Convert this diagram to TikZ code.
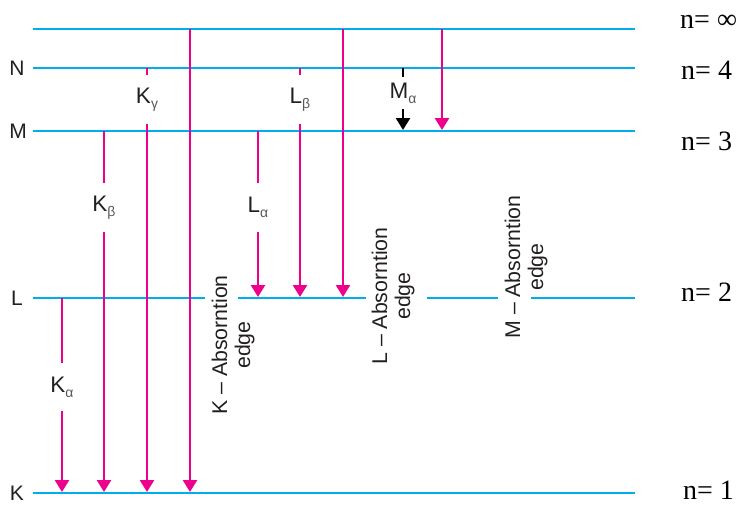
\documentclass[tikz,border=0pt]{standalone}
\usepackage{fontspec}
\setmainfont{Liberation Sans}
\newfontfamily\nfont{Liberation Serif}
\usetikzlibrary{arrows.meta}
\definecolor{lvlcyan}{RGB}{0,174,239}
\definecolor{trmag}{RGB}{236,0,140}
\definecolor{inkgray}{RGB}{35,31,32}
% lowered, smaller Greek subscript for line names
\newcommand\lsub[1]{\raisebox{-0.45ex}{\fontsize{14}{14}\selectfont\color{inkgray!75}#1}}

\begin{document}
\begin{tikzpicture}[x=1pt,y=-1pt,
  level/.style={lvlcyan, line width=2.6pt},
  trans/.style={trmag, line width=2.5pt},
  darktrans/.style={black, line width=2.5pt},
  tipped/.style={-{Triangle[width=14pt,length=12pt]}},
  linename/.style={font=\fontsize{22.5}{24}\selectfont, text=inkgray, inner sep=0pt},
  shellname/.style={font=\fontsize{21}{22}\selectfont, text=inkgray, inner sep=0pt},
  qnum/.style={font=\nfont\fontsize{28}{30}\selectfont, text=black, anchor=west, inner sep=0pt},
  edgetext/.style={font=\fontsize{21.3}{23}\selectfont, text=inkgray, rotate=90, align=center, inner sep=0pt}]
\useasboundingbox (0,0) rectangle (739,504);

% ---- energy levels ----
\coordinate (inf-l) at (33,29);  \coordinate (inf-r) at (635,29);
\coordinate (n-l)   at (33,68);  \coordinate (n-r)   at (635,68);
\coordinate (m-l)   at (33,131); \coordinate (m-r)   at (635,131);
\coordinate (l-l)   at (33,298); \coordinate (l-r)   at (635,298);
\coordinate (k-l)   at (33,493); \coordinate (k-r)   at (635,493);
\draw[level] (inf-l) -- (inf-r);
\draw[level] (n-l) -- (n-r);
\draw[level] (m-l) -- (m-r);
\draw[level] (k-l) -- (k-r);
% L level, broken where the edge labels cross it
\coordinate (lg1a) at (205,298); \coordinate (lg1b) at (238,298);
\coordinate (lg2a) at (366,298); \coordinate (lg2b) at (427,298);
\coordinate (lg3a) at (498,298); \coordinate (lg3b) at (531,298);
\draw[level] (l-l) -- (lg1a);
\draw[level] (lg1b) -- (lg2a);
\draw[level] (lg2b) -- (lg3a);
\draw[level] (lg3b) -- (l-r);

% ---- shell names ----
\node[shellname] (sN) at (17,68)  {N};
\node[shellname] (sM) at (18,131) {M};
\node[shellname] (sL) at (17,298) {L};
\node[shellname] (sK) at (17,493) {K};

% ---- principal quantum numbers ----
\node[qnum] (qinf) at (680,22)  {n= ∞};
\node[qnum] (q4)   at (681,70)  {n= 4};
\node[qnum] (q3)   at (681,141) {n= 3};
\node[qnum] (q2)   at (681,292) {n= 2};
\node[qnum] (q1)   at (683,490) {n= 1};

% ---- K series ----
\coordinate (ka-s) at (62,298);  \coordinate (ka-e) at (62,492);
\node[linename, minimum height=48pt] (ka) at (62,387) {K\lsub{α}};
\draw[trans] (ka-s) -- (ka.north);
\draw[trans,tipped] (ka.south) -- (ka-e);

\coordinate (kb-s) at (104,131); \coordinate (kb-e) at (104,492);
\node[linename, minimum height=49pt] (kb) at (104,207.5) {K\lsub{β}};
\draw[trans] (kb-s) -- (kb.north);
\draw[trans,tipped] (kb.south) -- (kb-e);

\coordinate (kg-s) at (147,68);  \coordinate (kg-e) at (147,492);
\node[linename, minimum height=49pt] (kg) at (147,99.5) {K\lsub{γ}};
\draw[trans] (kg-s) -- (kg.north);
\draw[trans,tipped] (kg.south) -- (kg-e);

\coordinate (kx-s) at (190,29);  \coordinate (kx-e) at (190,492);
\draw[trans,tipped] (kx-s) -- (kx-e);

% ---- L series ----
\coordinate (la-s) at (258,131); \coordinate (la-e) at (258,297);
\node[linename, minimum height=49pt] (la) at (258,207.5) {L\lsub{α}};
\draw[trans] (la-s) -- (la.north);
\draw[trans,tipped] (la.south) -- (la-e);

\coordinate (lb-s) at (300,68);  \coordinate (lb-e) at (300,297);
\node[linename, minimum height=49pt] (lb) at (300,99.5) {L\lsub{β}};
\draw[trans] (lb-s) -- (lb.north);
\draw[trans,tipped] (lb.south) -- (lb-e);

\coordinate (lx-s) at (343,29);  \coordinate (lx-e) at (343,297);
\draw[trans,tipped] (lx-s) -- (lx-e);

% ---- M series ----
\coordinate (ma-s) at (403,68);  \coordinate (ma-e) at (403,130);
\node[linename, minimum height=32pt] (ma) at (403,93) {M\lsub{α}};
\draw[darktrans] (ma-s) -- (ma.north);
\draw[darktrans,tipped] (ma.south) -- (ma-e);

\coordinate (mx-s) at (442,29);  \coordinate (mx-e) at (442,130);
\draw[trans,tipped] (mx-s) -- (mx-e);

% ---- absorption edges ----
\node[edgetext] (kedge) at (233,345) {K -- Absorntion\\edge};
\node[edgetext] (ledge) at (393,296) {L -- Absorntion\\edge};
\node[edgetext] (medge) at (526,267) {M -- Absorntion\\edge};
\end{tikzpicture}
\end{document}
